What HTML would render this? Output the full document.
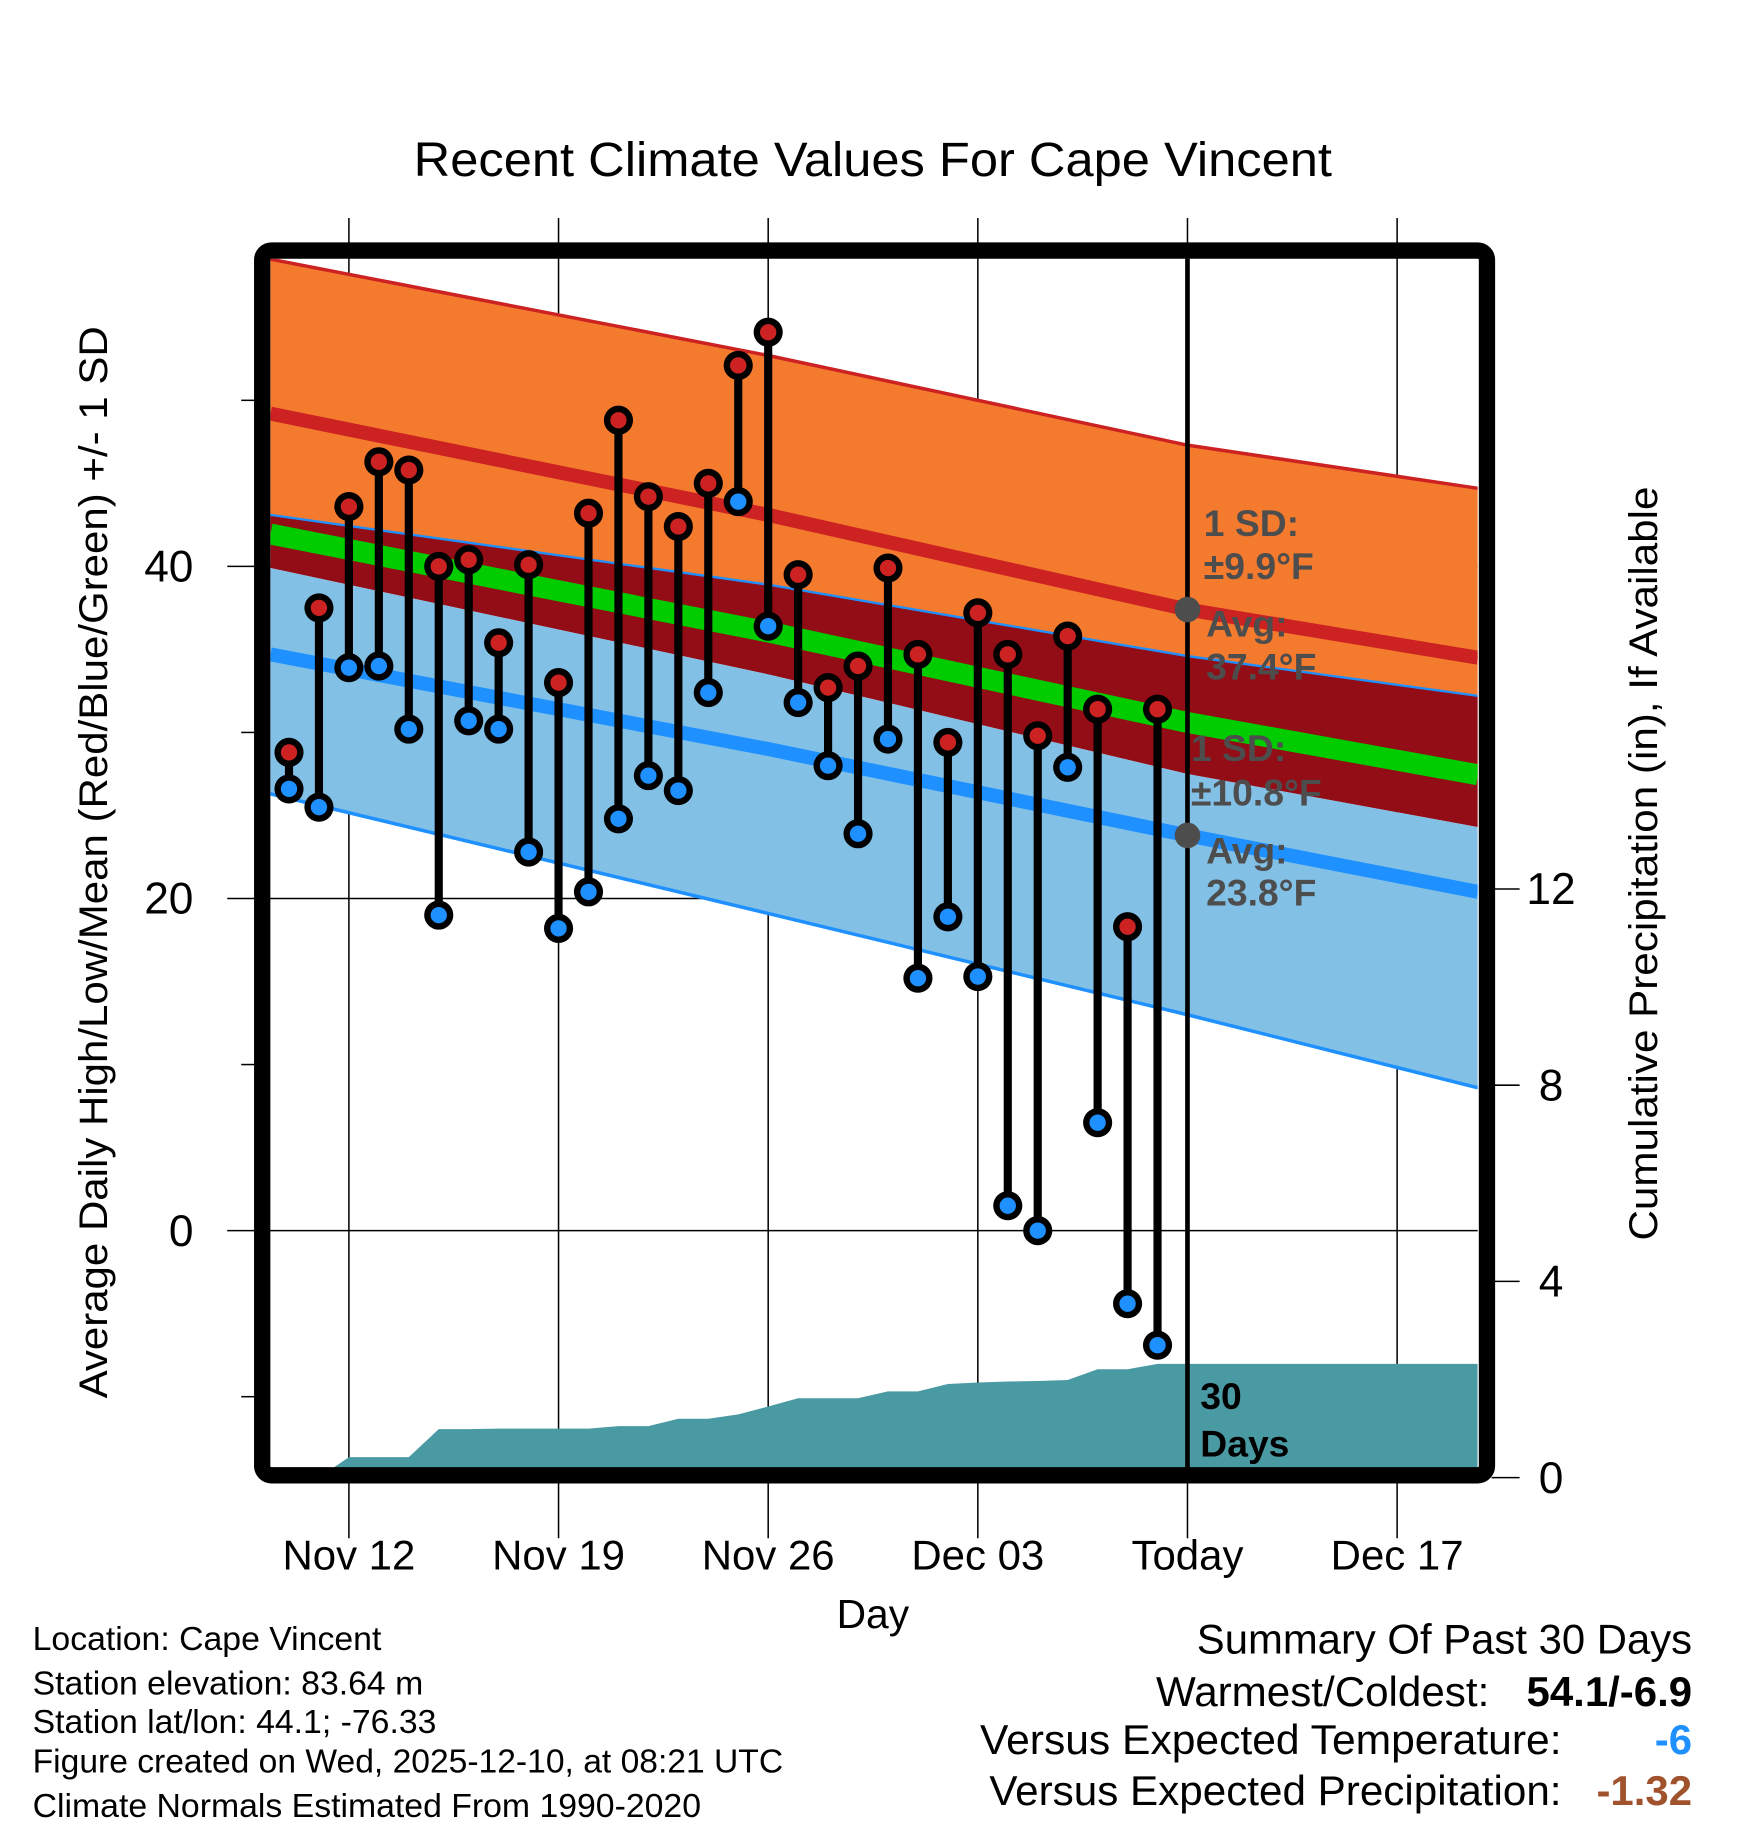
<!DOCTYPE html>
<html><head><meta charset="utf-8"><style>
html,body{margin:0;padding:0;background:#fff}
svg{display:block}
text{font-family:"Liberation Sans",sans-serif}
</style></head><body>
<svg id="chart" width="1748" height="1828" viewBox="0 0 1500 1568.6" xmlns="http://www.w3.org/2000/svg">
<defs><clipPath id="plotclip"><rect x="232" y="222" width="1036" height="1038"/></clipPath></defs>
<text x="749" y="151" font-size="41" text-anchor="middle" textLength="788" lengthAdjust="spacingAndGlyphs">Recent Climate Values For Cape Vincent</text>
<g id="gridTop"></g>
<g id="plot" clip-path="url(#plotclip)"></g>
<g id="marks"></g>
<g id="annot"></g>
<rect x="225" y="215" width="1051" height="1051" rx="8" fill="none" stroke="#000" stroke-width="14"/>
<g id="axes"></g>
<text transform="translate(92,740) rotate(-90)" font-size="34" text-anchor="middle" textLength="920" lengthAdjust="spacingAndGlyphs">Average Daily High/Low/Mean (Red/Blue/Green) +/- 1 SD</text>
<text transform="translate(1422,741) rotate(-90)" font-size="34" text-anchor="middle" textLength="647" lengthAdjust="spacingAndGlyphs">Cumulative Precipitation (in), If Available</text>
<text x="749" y="1397" font-size="35" text-anchor="middle">Day</text>
<g font-size="29">
<text x="28" y="1416">Location: Cape Vincent</text>
<text x="28" y="1454">Station elevation: 83.64 m</text>
<text x="28" y="1487">Station lat/lon: 44.1; -76.33</text>
<text x="28" y="1521" textLength="644" lengthAdjust="spacingAndGlyphs">Figure created on Wed, 2025-12-10, at 08:21 UTC</text>
<text x="28" y="1559">Climate Normals Estimated From 1990-2020</text>
</g>
<g font-size="36">
<text x="1452" y="1419" text-anchor="end" textLength="425" lengthAdjust="spacingAndGlyphs">Summary Of Past 30 Days</text>
<text x="1278" y="1464" text-anchor="end" textLength="286" lengthAdjust="spacingAndGlyphs">Warmest/Coldest:</text>
<text x="1452" y="1464" text-anchor="end" font-weight="bold">54.1/-6.9</text>
<text x="1340" y="1505" text-anchor="end" textLength="499" lengthAdjust="spacingAndGlyphs">Versus Expected Temperature:</text>
<text x="1452" y="1505" text-anchor="end" font-weight="bold" fill="#1e90ff">-6</text>
<text x="1340" y="1549" text-anchor="end" textLength="491" lengthAdjust="spacingAndGlyphs">Versus Expected Precipitation:</text>
<text x="1452" y="1549" text-anchor="end" font-weight="bold" fill="#a0522d">-1.32</text>
</g>
</svg>
<script>
// Day index 0 = Nov 10
const dateTicks = ["Nov 12","Nov 19","Nov 26","Dec 03","Today","Dec 17"];
const dateTickDays = [2,9,16,23,30,37];
const yTicks = [0,20,40];
const yMinorTicks = [-10,10,30,50];
const precipTicks = [0,4,8,12];
const highs = [28.8,37.5,43.6,46.3,45.8,40.0,40.4,35.4,40.1,33.0,43.2,48.8,44.2,42.4,45.0,52.1,54.1,39.5,32.7,34.0,39.9,34.7,29.4,37.2,34.7,29.8,35.8,31.4,18.3,31.4];
const lows = [26.6,25.5,33.9,34.0,30.2,19.0,30.7,30.2,22.8,18.2,20.4,24.8,27.4,26.5,32.4,43.9,36.4,31.8,28.0,23.9,29.6,15.2,18.9,15.3,1.5,0.0,27.9,6.5,-4.4,-6.9];
const precip = [0,0,0.42,0.42,0.42,0.99,0.99,1.0,1.0,1.0,1.0,1.05,1.05,1.2,1.2,1.29,1.45,1.62,1.62,1.62,1.76,1.76,1.91,1.94,1.96,1.97,1.99,2.21,2.21,2.32];
const normDays = [-0.62,16,30,39.7];
const avgHigh = [49.2,43.1,37.4,34.5];
const sdHigh = [9.3,9.6,9.9,10.2];
const avgLow = [34.7,29.0,23.8,20.4];
const sdLow = [8.4,9.9,10.8,11.8];

const NS="http://www.w3.org/2000/svg";
const X = d => 248 + 25.7*d;
const Y = t => 1056 - 14.25*t;
const YP = p => 1268 - 42.1*p;
function mk(tag, attrs, parent){const e=document.createElementNS(NS,tag);for(const k in attrs)e.setAttribute(k,attrs[k]);parent.appendChild(e);return e;}
const plot=document.getElementById('plot'), marks=document.getElementById('marks'), axes=document.getElementById('axes'), gridTop=document.getElementById('gridTop'), annot=document.getElementById('annot');

function series(arrFn){return normDays.map((d,i)=>[X(d),Y(arrFn(i))]);}
const hiUp=series(i=>avgHigh[i]+sdHigh[i]), hiAvg=series(i=>avgHigh[i]), hiDn=series(i=>avgHigh[i]-sdHigh[i]);
const loUp=series(i=>avgLow[i]+sdLow[i]), loAvg=series(i=>avgLow[i]), loDn=series(i=>avgLow[i]-sdLow[i]);
const mean=series(i=>(avgHigh[i]+avgLow[i])/2);
const pts=a=>a.map(p=>p.join(',')).join(' ');
function band(top,bot,fill,name){
  const e=mk('polygon',{points:pts(top)+' '+pts(bot.slice().reverse()),fill:fill},plot);
  
  
}
function line(p,col,w,name){
  const e=mk('polyline',{points:pts(p),fill:'none',stroke:col,'stroke-width':w},plot);
  
  
}
band(hiUp,loUp,'#f47a2e','high-sd-band');
band(loUp,hiDn,'#920d15','overlap-band');
band(hiDn,loDn,'#82c0e6','low-sd-band');
line(hiUp,'#cc2222',3,'high-plus-sd-line');
line(loUp,'#1e90ff',2,'low-plus-sd-line');
line(loDn,'#1e90ff',3,'low-minus-sd-line');
line(hiAvg,'#cc2222',12,'avg-high-line');
line(loAvg,'#1e90ff',12,'avg-low-line');
line(mean,'#00cc00',18,'avg-mean-line');

let pp=[[232,YP(0)]];
precip.forEach((p,i)=>pp.push([X(i),YP(p)]));
pp.push([1268,YP(precip[precip.length-1])]);pp.push([1268,YP(0)]);
const pa=mk('polygon',{points:pts(pp),fill:'#4a9aa3'},plot);



dateTickDays.forEach((d,i)=>{
  const g=mk('line',{x1:X(d),x2:X(d),y1:187,y2:1320,stroke:'#000','stroke-width':1.3},gridTop);
  
  
  const t=mk('text',{x:X(d),y:1347,'font-size':36,'text-anchor':'middle'},axes);
  t.textContent=dateTicks[i];
  
  
});
yTicks.forEach(v=>{
  const g=mk('line',{x1:195,x2:1268,y1:Y(v),y2:Y(v),stroke:'#000','stroke-width':1.3},gridTop);
  
  
  const t=mk('text',{x:166,y:Y(v)+13,'font-size':38,'text-anchor':'end'},axes);
  t.textContent=v;
  
  
});
yMinorTicks.forEach(v=>{
  const g=mk('line',{x1:207,x2:220,y1:Y(v),y2:Y(v),stroke:'#000','stroke-width':1.3},axes);
  
  
});
precipTicks.forEach(v=>{
  const g=mk('line',{x1:1280,x2:1304,y1:YP(v),y2:YP(v),stroke:'#000','stroke-width':1.3},axes);
  
  
  const t=mk('text',{x:1331,y:YP(v)+13,'font-size':38,'text-anchor':'middle'},axes);
  t.textContent=v;
  
  
});
const tl=mk('line',{x1:X(30),x2:X(30),y1:222,y2:1260,stroke:'#000','stroke-width':4},marks);



highs.forEach((h,i)=>{
  const s=mk('line',{x1:X(i),x2:X(i),y1:Y(h),y2:Y(lows[i]),stroke:'#000','stroke-width':7},marks);
  
  
});
function dot(x,y,col,name){
  const o=mk('circle',{cx:x,cy:y,r:12.5,fill:'#000'},marks);
  
  
  const c=mk('circle',{cx:x,cy:y,r:7,fill:col},marks);
  
  
}
highs.forEach((h,i)=>{dot(X(i),Y(lows[i]),'#1e90ff','low-point');dot(X(i),Y(h),'#cc2222','high-point');});

const ad1=mk('circle',{cx:X(30),cy:Y(avgHigh[2]),r:11,fill:'#4d4d4d'},annot);


const ad2=mk('circle',{cx:X(30),cy:Y(avgLow[2]),r:11,fill:'#4d4d4d'},annot);


const labels=[["1 SD:",1033,460],["\u00b19.9\u00b0F",1033,497],["Avg:",1035,546],["37.4\u00b0F",1035,583],["1 SD:",1022,653],["\u00b110.8\u00b0F",1022,691],["Avg:",1035,741],["23.8\u00b0F",1035,777]];
labels.forEach(l=>{
  const t=mk('text',{x:l[1],y:l[2],'font-size':32,'font-weight':'bold',fill:'#4d4d4d'},annot);
  t.textContent=l[0];
  
  
});
[["30",1209],["Days",1250]].forEach(l=>{
  const t=mk('text',{x:1030,y:l[1],'font-size':32,'font-weight':'bold',fill:'#000'},annot);
  t.textContent=l[0];
  
  
});
</script>
</body></html>
